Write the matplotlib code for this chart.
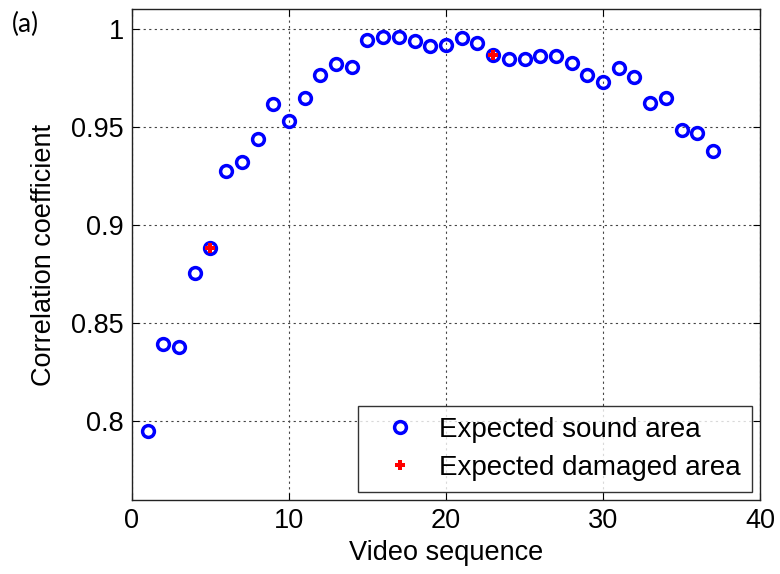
import matplotlib
matplotlib.use("Agg")
import matplotlib.pyplot as plt
import numpy as np

# Correlation coefficient per video sequence
seq = np.arange(1, 38)
corr = [0.795, 0.8394, 0.8379, 0.8756, 0.8882, 0.9276, 0.932, 0.944, 0.9616, 0.9528,
        0.9646, 0.9763, 0.9822, 0.9807, 0.9941, 0.9958, 0.9958, 0.9939, 0.991, 0.9919,
        0.9951, 0.9927, 0.9868, 0.9844, 0.9844, 0.9859, 0.9861, 0.9824, 0.9765, 0.9728,
        0.980, 0.9756, 0.9623, 0.9648, 0.9484, 0.9467, 0.9379]

# sequences flagged as damaged
damaged_seq = [5, 23]
damaged_corr = [corr[s - 1] for s in damaged_seq]

x_ticks = [0, 10, 20, 30, 40]
y_ticks = [0.8, 0.85, 0.9, 0.95, 1.0]
y_labels = ["0.8", "0.85", "0.9", "0.95", "1"]

plt.rcParams["font.family"] = ["Liberation Sans", "DejaVu Sans"]

fig = plt.figure(figsize=(7.8, 5.74), dpi=100)
ax = fig.add_axes([0.1692, 0.1289, 0.8052, 0.8554])

ax.plot(seq, corr, "o", linestyle="none", markerfacecolor="none",
        markeredgecolor="#0000ff", markersize=8.5, markeredgewidth=2.5,
        label="Expected sound area")
ax.plot(damaged_seq, damaged_corr, "P", linestyle="none", color="#ff0000",
        markersize=7.5, markeredgewidth=0, label="Expected damaged area")

ax.set_xlim(0, 40)
ax.set_ylim(0.76, 1.01)
ax.set_xticks(x_ticks)
ax.set_yticks(y_ticks)
ax.set_yticklabels(y_labels)
ax.tick_params(direction="in", top=True, right=True, labelsize=19.5,
               length=5, width=0.8, pad=6)
ax.grid(True, linestyle=(0, (2, 3)), color="#444444", linewidth=0.8)
for sp in ax.spines.values():
    sp.set_linewidth(1.0)
    sp.set_color("#222222")

ax.set_xlabel("Video sequence", fontsize=19.5, labelpad=4)
ax.set_ylabel("Correlation coefficient", fontsize=19.5, labelpad=10)

leg = ax.legend(loc="lower right", fontsize=20, frameon=True, fancybox=False,
                edgecolor="black", borderaxespad=0.3, handletextpad=0.3,
                handlelength=2.2, borderpad=0.4, labelspacing=0.42)
leg.get_frame().set_linewidth(1.0)

fig.text(0.015, 0.945, "(a)", fontsize=19, family=["Lato", "DejaVu Sans"])

fig.savefig("out.png", dpi=100)
